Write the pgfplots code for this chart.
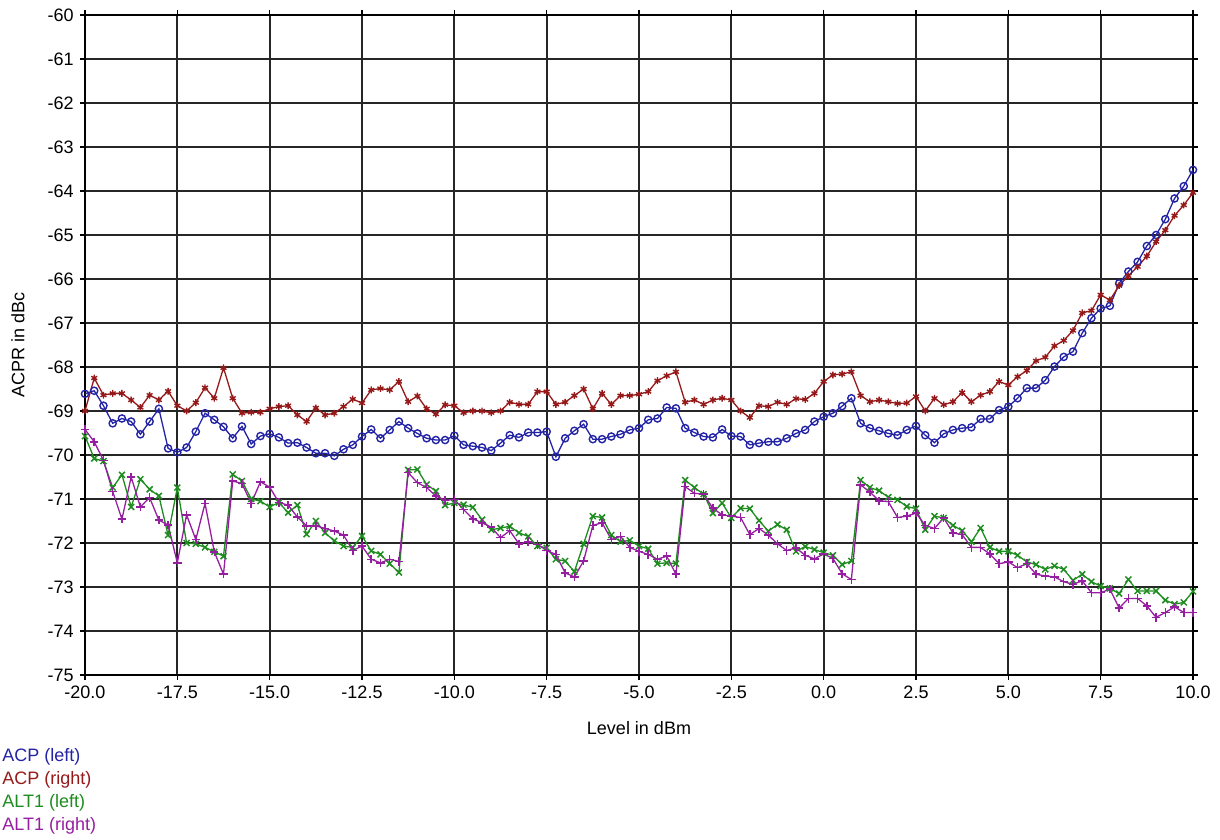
\documentclass[border=0pt]{standalone}
\usepackage{fontspec}
\setmainfont{Liberation Sans}
\usepackage{pgfplots}
\usepackage{pgfplotstable}
\pgfplotsset{compat=1.18}
\definecolor{cacpl}{RGB}{35,35,165}
\definecolor{cacpr}{RGB}{150,25,25}
\definecolor{caltl}{RGB}{30,140,30}
\definecolor{caltr}{RGB}{150,30,160}
\pgfplotstableread{
x acpl acpr altl altr
-20 -68.61 -69.0 -69.57 -69.42
-19.75 -68.54 -68.25 -70.08 -69.7
-19.5 -68.88 -68.64 -70.14 -70.12
-19.25 -69.28 -68.6 -70.74 -70.83
-19 -69.17 -68.6 -70.45 -71.46
-18.75 -69.24 -68.75 -71.18 -70.5
-18.5 -69.53 -68.92 -70.55 -71.18
-18.25 -69.24 -68.64 -70.78 -70.97
-18 -68.95 -68.75 -70.93 -71.48
-17.75 -69.85 -68.55 -71.82 -71.59
-17.5 -69.94 -68.88 -70.74 -72.45
-17.25 -69.83 -69.0 -72.0 -71.36
-17 -69.47 -68.81 -72.02 -71.92
-16.75 -69.05 -68.47 -72.1 -71.1
-16.5 -69.2 -68.71 -72.2 -72.2
-16.25 -69.36 -68.02 -72.3 -72.71
-16 -69.62 -68.71 -70.44 -70.59
-15.75 -69.35 -69.05 -70.59 -70.65
-15.5 -69.75 -69.03 -71.0 -71.1
-15.25 -69.57 -69.03 -71.05 -70.61
-15 -69.52 -68.95 -71.18 -70.73
-14.75 -69.6 -68.9 -71.08 -71.08
-14.5 -69.73 -68.88 -71.31 -71.14
-14.25 -69.72 -69.09 -71.14 -71.41
-14 -69.83 -69.24 -71.8 -71.61
-13.75 -69.96 -68.93 -71.5 -71.61
-13.5 -69.96 -69.09 -71.77 -71.67
-13.25 -70.02 -69.05 -71.95 -71.73
-13 -69.87 -68.9 -72.07 -71.82
-12.75 -69.77 -68.73 -72.1 -72.17
-12.5 -69.58 -68.82 -71.84 -72.07
-12.25 -69.42 -68.52 -72.18 -72.37
-12 -69.62 -68.49 -72.26 -72.45
-11.75 -69.43 -68.52 -72.47 -72.37
-11.5 -69.24 -68.33 -72.67 -72.42
-11.25 -69.39 -68.79 -70.34 -70.4
-11 -69.51 -68.66 -70.33 -70.63
-10.75 -69.62 -68.95 -70.67 -70.74
-10.5 -69.66 -69.07 -70.82 -70.93
-10.25 -69.66 -68.86 -71.14 -71.03
-10 -69.56 -68.88 -71.09 -71.01
-9.75 -69.77 -69.04 -71.13 -71.24
-9.5 -69.8 -69.0 -71.19 -71.45
-9.25 -69.83 -69.0 -71.47 -71.54
-9 -69.9 -69.04 -71.7 -71.64
-8.75 -69.73 -69.0 -71.66 -71.88
-8.5 -69.55 -68.8 -71.62 -71.72
-8.25 -69.6 -68.85 -71.77 -72.02
-8 -69.49 -68.85 -71.85 -71.97
-7.75 -69.49 -68.56 -72.07 -72.03
-7.5 -69.47 -68.56 -72.11 -72.17
-7.25 -70.04 -68.85 -72.37 -72.26
-7 -69.62 -68.8 -72.41 -72.68
-6.75 -69.45 -68.65 -72.65 -72.77
-6.5 -69.3 -68.5 -72.02 -72.41
-6.25 -69.64 -68.95 -71.39 -71.6
-6 -69.64 -68.6 -71.42 -71.54
-5.75 -69.58 -68.85 -71.82 -71.92
-5.5 -69.53 -68.65 -71.97 -71.85
-5.25 -69.43 -68.65 -71.94 -72.1
-5 -69.39 -68.62 -72.07 -72.19
-4.75 -69.2 -68.56 -72.13 -72.26
-4.5 -69.17 -68.31 -72.47 -72.37
-4.25 -68.92 -68.2 -72.45 -72.3
-4 -68.94 -68.11 -72.47 -72.71
-3.75 -69.39 -68.8 -70.57 -70.72
-3.5 -69.49 -68.75 -70.74 -70.87
-3.25 -69.58 -68.85 -70.89 -70.89
-3 -69.6 -68.75 -71.32 -71.21
-2.75 -69.42 -68.71 -71.09 -71.36
-2.5 -69.57 -68.75 -71.43 -71.39
-2.25 -69.58 -69.0 -71.21 -71.42
-2 -69.77 -69.15 -71.22 -71.81
-1.75 -69.73 -68.88 -71.49 -71.67
-1.5 -69.7 -68.9 -71.73 -71.82
-1.25 -69.7 -68.8 -71.58 -72.02
-1 -69.62 -68.85 -71.7 -72.17
-0.75 -69.51 -68.72 -72.19 -72.11
-0.5 -69.43 -68.74 -72.08 -72.28
-0.25 -69.24 -68.6 -72.15 -72.36
0 -69.13 -68.33 -72.22 -72.25
0.25 -69.05 -68.18 -72.28 -72.35
0.5 -68.89 -68.16 -72.49 -72.7
0.75 -68.71 -68.11 -72.41 -72.83
1 -69.28 -68.65 -70.57 -70.68
1.25 -69.39 -68.79 -70.74 -70.84
1.5 -69.45 -68.75 -70.81 -71.04
1.75 -69.51 -68.79 -70.96 -71.06
2 -69.55 -68.83 -71.02 -71.42
2.25 -69.43 -68.82 -71.17 -71.39
2.5 -69.34 -68.67 -71.22 -71.32
2.75 -69.55 -69.0 -71.7 -71.6
3 -69.72 -68.71 -71.39 -71.67
3.25 -69.52 -68.86 -71.43 -71.43
3.5 -69.43 -68.79 -71.6 -71.77
3.75 -69.39 -68.58 -71.72 -71.81
4 -69.37 -68.79 -71.97 -72.1
4.25 -69.18 -68.64 -71.66 -72.1
4.5 -69.18 -68.56 -72.1 -72.25
4.75 -68.98 -68.33 -72.19 -72.47
5 -68.9 -68.41 -72.19 -72.43
5.25 -68.71 -68.22 -72.28 -72.56
5.5 -68.48 -68.08 -72.43 -72.47
5.75 -68.48 -67.86 -72.49 -72.71
6 -68.3 -67.78 -72.6 -72.75
6.25 -67.99 -67.52 -72.52 -72.77
6.5 -67.77 -67.4 -72.6 -72.88
6.75 -67.65 -67.17 -72.85 -72.94
7 -67.23 -66.77 -72.71 -72.86
7.25 -66.89 -66.72 -72.88 -73.13
7.5 -66.67 -66.36 -72.98 -73.13
7.75 -66.61 -66.48 -73.03 -73.05
8 -66.1 -66.15 -73.15 -73.48
8.25 -65.83 -65.93 -72.83 -73.26
8.5 -65.61 -65.72 -73.09 -73.26
8.75 -65.25 -65.48 -73.09 -73.43
9 -65.0 -65.15 -73.09 -73.69
9.25 -64.64 -64.89 -73.3 -73.58
9.5 -64.17 -64.56 -73.39 -73.45
9.75 -63.89 -64.32 -73.35 -73.58
10 -63.52 -64.04 -73.1 -73.58
}\datatable
\begin{document}
\fontsize{9pt}{11pt}\selectfont
\begin{tikzpicture}
\useasboundingbox (0,0) rectangle (610pt,420pt);
\begin{axis}[
  at={(42.5pt,82.5pt)}, anchor=south west,
  scale only axis, width=554pt, height=330pt,
  xmin=-20, xmax=10, ymin=-75, ymax=-60,
  xtick={-20,-17.5,...,10},
  xticklabels={-20.0,-17.5,-15.0,-12.5,-10.0,-7.5,-5.0,-2.5,0.0,2.5,5.0,7.5,10.0},
  ytick={-75,-74,...,-60},
  yticklabels={-75,-74,-73,-72,-71,-70,-69,-68,-67,-66,-65,-64,-63,-62,-61,-60},
  tick align=outside, major tick length=2.5pt,
  tick style={black, line width=0.6pt},
  axis line style={black, line width=0.9pt},
  grid=major, major grid style={black!85, line width=0.9pt},
  ticklabel style={font=\fontsize{9pt}{11pt}\selectfont},
  xlabel={Level in dBm}, ylabel={ACPR in dBc},
  label style={font=\fontsize{9pt}{11pt}\selectfont},
  every axis x label/.style={at={(axis description cs:0.5,-0.08)}, anchor=center},
  every axis y label/.style={at={(axis description cs:-0.0605,0.5)}, rotate=90, anchor=center},
  clip=true,
]
\addplot[cacpl, line width=0.65pt, mark=o, mark size=1.8pt, mark options={line width=0.7pt}] table[x=x,y=acpl]{\datatable};
\addplot[cacpr, line width=0.65pt, mark=asterisk, mark size=1.7pt, mark options={line width=0.7pt}] table[x=x,y=acpr]{\datatable};
\addplot[caltl, line width=0.65pt, mark=x, mark size=2.1pt, mark options={line width=0.75pt}] table[x=x,y=altl]{\datatable};
\addplot[caltr, line width=0.65pt, mark=+, mark size=2.1pt, mark options={line width=0.75pt}] table[x=x,y=altr]{\datatable};
\end{axis}
\node[anchor=west, inner sep=0pt, text=cacpl] at (1pt,41.5pt) {ACP (left)};
\node[anchor=west, inner sep=0pt, text=cacpr] at (1pt,30pt) {ACP (right)};
\node[anchor=west, inner sep=0pt, text=caltl] at (1pt,18.5pt) {ALT1 (left)};
\node[anchor=west, inner sep=0pt, text=caltr] at (1pt,7pt) {ALT1 (right)};
\end{tikzpicture}
\end{document}
